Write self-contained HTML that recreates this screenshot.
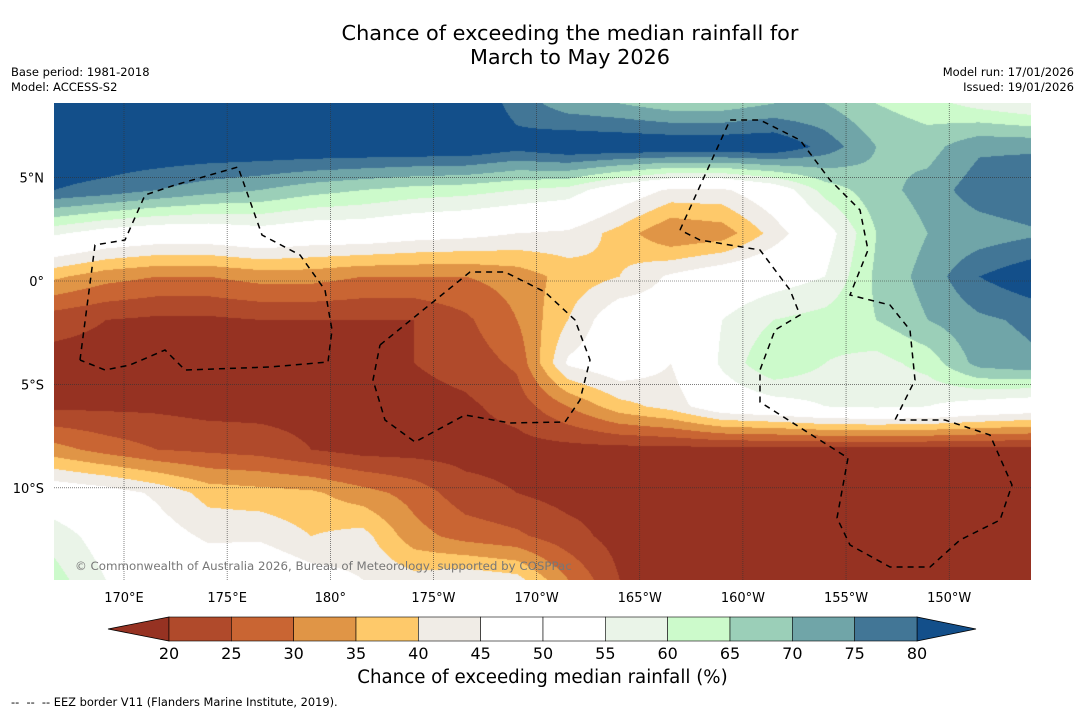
<!DOCTYPE html>
<html><head><meta charset="utf-8"><style>
body{margin:0;background:#fff;width:1085px;height:713px;overflow:hidden;font-family:"DejaVu Sans","Liberation Sans",sans-serif;position:relative}
.t{position:absolute;white-space:nowrap}
</style></head><body>
<div class="t" style="left:0;width:1140px;top:21px;text-align:center;font-size:20.8px;line-height:24px;color:#000">Chance of exceeding the median rainfall for<br>March to May 2026</div>
<div class="t" style="left:11px;top:65px;font-size:11.5px;line-height:15px">Base period: 1981-2018<br>Model: ACCESS-S2</div>
<div class="t" style="right:11px;top:65px;font-size:11.5px;line-height:15px;text-align:right">Model run: 17/01/2026<br>Issued: 19/01/2026</div>
<canvas id="map" width="977" height="477" style="position:absolute;left:54px;top:103px"></canvas>
<svg id="ov" width="1085" height="713" style="position:absolute;left:0;top:0"></svg>
<div class="t" style="left:0;width:1085px;top:667px;text-align:center;font-size:18.2px">Chance of exceeding median rainfall (%)</div>
<div class="t" style="left:11px;top:695px;font-size:11.4px">-- &nbsp;-- &nbsp;-- EEZ border V11 (Flanders Marine Institute, 2019).</div>
<script>
const gridX = 20, gridY = 12;
const fieldRows = [
[85,85,85,85,85,85,85,85,85,78,72,70,67,67,70,70,65,62,58,55],
[85,85,85,85,85,85,85,85,85,82,85,85,85,85,85,78,70,68,74,74],
[80,78,75,72,70,67,65,63,62,60,58,50,44,44,50,62,68,72,78,80],
[56,52,50,50,52,50,50,48,47,45,44,38,30,32,42,52,65,70,72,74],
[36,32,30,30,32,32,30,30,30,32,37,40,46,50,52,55,66,72,80,84],
[22,20,19,19,20,20,20,20,24,30,40,50,48,55,60,62,65,70,74,76],
[18,18,18,18,18,19,19,20,22,26,46,50,45,56,65,60,58,62,72,74],
[19,19,19,18,18,18,18,18,19,22,30,38,42,50,52,55,56,55,52,50],
[32,28,25,24,23,20,18,18,18,18,18,18,18,18,18,18,18,18,18,18],
[50,48,44,38,37,36,32,28,22,20,18,18,18,18,18,18,18,18,18,18],
[58,52,48,44,44,40,42,32,28,26,22,18,18,18,18,18,18,18,18,18],
[62,55,52,50,52,48,45,42,44,42,30,20,18,18,18,18,18,18,18,18]];
const levels = [20,25,30,35,40,45,50,55,60,65,70,75,80];
const levelColors = ["#963222","#b04a2b","#c96533","#e09546","#fec96a","#f0ece6","#ffffff","#ffffff","#eaf4e8","#ccfacb","#9bcfb8","#70a5a8","#427696","#134f8a"];
const lonTicks = [170,175,180,185,190,195,200,205,210];
const lonLabels = ["170°E","175°E","180°","175°W","170°W","165°W","160°W","155°W","150°W"];
const latTicks = [5,0,-5,-10];
const latLabels = ["5°N","0°","5°S","10°S"];
const X0=54,Y0=103,W=977,H=477;
const lonX = lon => 124 + (lon-170)*20.63;
const latY = lat => 281 - lat*20.68;
const cv=document.getElementById('map'),ctx=cv.getContext('2d');
const img=ctx.createImageData(W,H);
const rgb=levelColors.map(c=>[parseInt(c.slice(1,3),16),parseInt(c.slice(3,5),16),parseInt(c.slice(5,7),16)]);
for(let y=0;y<H;y++){const gy=y/(H-1)*(gridY-1);const j=Math.min(Math.floor(gy),gridY-2);const fy=gy-j;
for(let x=0;x<W;x++){const gx=x/(W-1)*(gridX-1);const i=Math.min(Math.floor(gx),gridX-2);const fx=gx-i;
const sx=fx, sy=fy;
const v=(fieldRows[j][i]*(1-sx)+fieldRows[j][i+1]*sx)*(1-sy)+(fieldRows[j+1][i]*(1-sx)+fieldRows[j+1][i+1]*sx)*sy;
let k=0;while(k<levels.length&&v>=levels[k])k++;const c=rgb[k];const p=(y*W+x)*4;
img.data[p]=c[0];img.data[p+1]=c[1];img.data[p+2]=c[2];img.data[p+3]=255;}}
ctx.putImageData(img,0,0);
const NS='http://www.w3.org/2000/svg',ov=document.getElementById('ov');
function mk(tag,attrs){const e=document.createElementNS(NS,tag);for(const k in attrs)e.setAttribute(k,attrs[k]);ov.appendChild(e);return e;}
const FF='DejaVu Sans, Liberation Sans, sans-serif';
lonTicks.forEach((lon,i)=>{const x=lonX(lon);
const l=mk('line',{x1:x,y1:Y0,x2:x,y2:Y0+H,stroke:'#333','stroke-width':0.6,'stroke-dasharray':'1 1'});


const t=mk('text',{x:x,y:602,'font-size':13,'text-anchor':'middle','font-family':FF});t.textContent=lonLabels[i];

});
latTicks.forEach((lat,i)=>{const y=latY(lat);
const l=mk('line',{x1:X0,y1:y,x2:X0+W,y2:y,stroke:'#333','stroke-width':0.6,'stroke-dasharray':'1 1'});


const t=mk('text',{x:44,y:y+5,'font-size':13,'text-anchor':'end','font-family':FF});t.textContent=latLabels[i];

});
const eez=[
"80,360 95,245 125,240 145,195 175,185 238,167 262,235 300,255 325,290 332,330 328,362 270,367 185,370 165,350 130,365 105,370 80,360",
"380,345 470,272 505,272 545,292 575,320 590,360 580,400 565,422 510,423 465,415 415,442 385,420 373,380 380,345",
"680,230 730,120 760,120 800,140 830,180 860,210 868,250 850,295 890,305 910,330 915,380 895,420 945,420 990,435 1012,485 1000,520 960,540 930,567 890,567 850,545 837,518 848,458 760,402 760,370 775,330 800,315 790,290 760,250 700,240 680,230"];
eez.forEach(p=>{const e=mk('polyline',{points:p,fill:'none',stroke:'#000','stroke-width':1.5,'stroke-dasharray':'6 5'});

});
const cr=mk('text',{x:75,y:570,'font-size':11.8,fill:'#777','font-family':FF});cr.textContent='© Commonwealth of Australia 2026, Bureau of Meteorology, supported by COSPPac';


const cbX0=169,cbX1=917,cbY=617,cbH=24,bw=(cbX1-cbX0)/(levels.length-1);
const lo=mk('polygon',{points:`108,${cbY+cbH/2} ${cbX0},${cbY} ${cbX0},${cbY+cbH}`,fill:levelColors[0],stroke:'#000','stroke-width':0.8});


const hi=mk('polygon',{points:`976,${cbY+cbH/2} ${cbX1},${cbY} ${cbX1},${cbY+cbH}`,fill:levelColors[13],stroke:'#000','stroke-width':0.8});


for(let i=0;i<levels.length-1;i++){const r=mk('rect',{x:cbX0+i*bw,y:cbY,width:bw,height:cbH,fill:levelColors[i+1],stroke:'#000','stroke-width':0.6});

}
levels.forEach((lv,i)=>{const t=mk('text',{x:cbX0+i*bw,y:659,'font-size':16,'text-anchor':'middle','font-family':FF});t.textContent=lv;

});
</script>
</body></html>
